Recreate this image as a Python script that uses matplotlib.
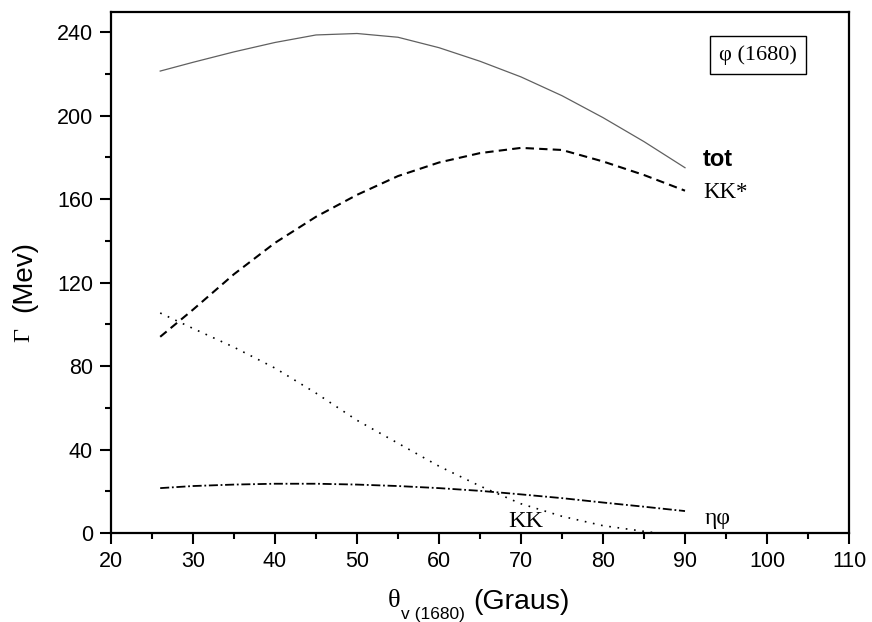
import matplotlib
matplotlib.use("Agg")
import matplotlib.pyplot as plt
from matplotlib.ticker import MultipleLocator

# angulo de mistura (graus)
theta = [26, 30, 35, 40, 45, 50, 55, 60, 65, 70, 75, 80, 85, 90]

larg_tot = [221.3, 225.5, 230.5, 235.0, 238.6, 239.3, 237.5, 232.5, 226.0, 218.5, 209.5, 199.0, 187.5, 175.0]
larg_kkstar = [94.0, 107.0, 124.0, 139.0, 151.5, 162.0, 171.0, 177.5, 182.0, 184.5, 183.5, 178.0, 171.5, 164.0]
larg_etaphi = [21.5, 22.5, 23.2, 23.6, 23.6, 23.2, 22.5, 21.5, 20.2, 18.5, 16.7, 14.6, 12.6, 10.5]

theta_kk = [26, 30, 35, 40, 45, 50, 55, 60, 65, 70, 75, 80, 85, 86.5]
larg_kk = [105.4, 98.0, 89.0, 79.0, 67.0, 54.0, 43.0, 32.0, 22.5, 14.0, 8.0, 3.5, 0.8, 0.0]

W, H = 872, 622
fig = plt.figure(figsize=(W / 100, H / 100), dpi=100)
ax = fig.add_axes([111 / W, 1 - 533 / H, (849 - 111) / W, (533 - 12) / H])

ax.plot(theta, larg_tot, color="#606060", lw=0.9)
ax.plot(theta, larg_kkstar, color="black", lw=1.5, linestyle=(0, (4, 2.5)))
ax.plot(theta_kk, larg_kk, color="black", lw=1.2, linestyle=(0, (1, 4)))
ax.plot(theta, larg_etaphi, color="black", lw=1.3, linestyle=(0, (5, 1.5, 1, 1.5)))

ax.set_xlim(20, 110)
ax.set_ylim(0, 249.6)
ax.xaxis.set_major_locator(MultipleLocator(10))
ax.xaxis.set_minor_locator(MultipleLocator(5))
ax.yaxis.set_major_locator(MultipleLocator(40))
ax.yaxis.set_minor_locator(MultipleLocator(20))
ax.tick_params(which="major", direction="out", length=8, width=1.5,
               labelsize=15.5, pad=5)
ax.tick_params(which="minor", direction="out", length=4.3, width=1.5)
for lab in ax.get_xticklabels() + ax.get_yticklabels():
    lab.set_fontfamily("Liberation Sans")
for s in ax.spines.values():
    s.set_linewidth(1.6)

serif = "Liberation Serif"
sans = "Liberation Sans"

# rotulos das curvas
ax.text(92.2, 175.8, "tot", family=sans, fontweight="bold", fontsize=17, va="baseline")
ax.text(92.2, 160.7, "KK*", family=serif, fontsize=16.5, va="baseline")
ax.text(92.4, 4.3, "ηφ", family=serif, fontsize=17, va="baseline")
ax.text(70.6, 2.9, "KK", family=serif, fontsize=17.5, va="baseline", ha="center")

ax.text(98.9, 229.0, "φ (1680)", family=serif, fontsize=16, ha="center", va="center",
        bbox=dict(boxstyle="square,pad=0.4", fc="white", ec="black", lw=1.0))

# titulos dos eixos
fig.text(394 / W, 1 - 601 / H, "θ", family=serif, fontsize=19, ha="center", va="center")
fig.text(401 / W, 1 - 614 / H, "v (1680)", family=sans, fontsize=12.5, ha="left", va="center")
fig.text(473 / W, 1 - 602 / H, "(Graus)", family=sans, fontsize=20.5, ha="left", va="center")

fig.text(24 / W, 1 - 335 / H, "Γ", family=serif, fontsize=17.5, rotation=90, ha="center", va="center")
fig.text(24 / W, 1 - 276 / H, "(Mev)", family=sans, fontsize=20, rotation=90, ha="center", va="center")

fig.savefig("out.png", dpi=100)
